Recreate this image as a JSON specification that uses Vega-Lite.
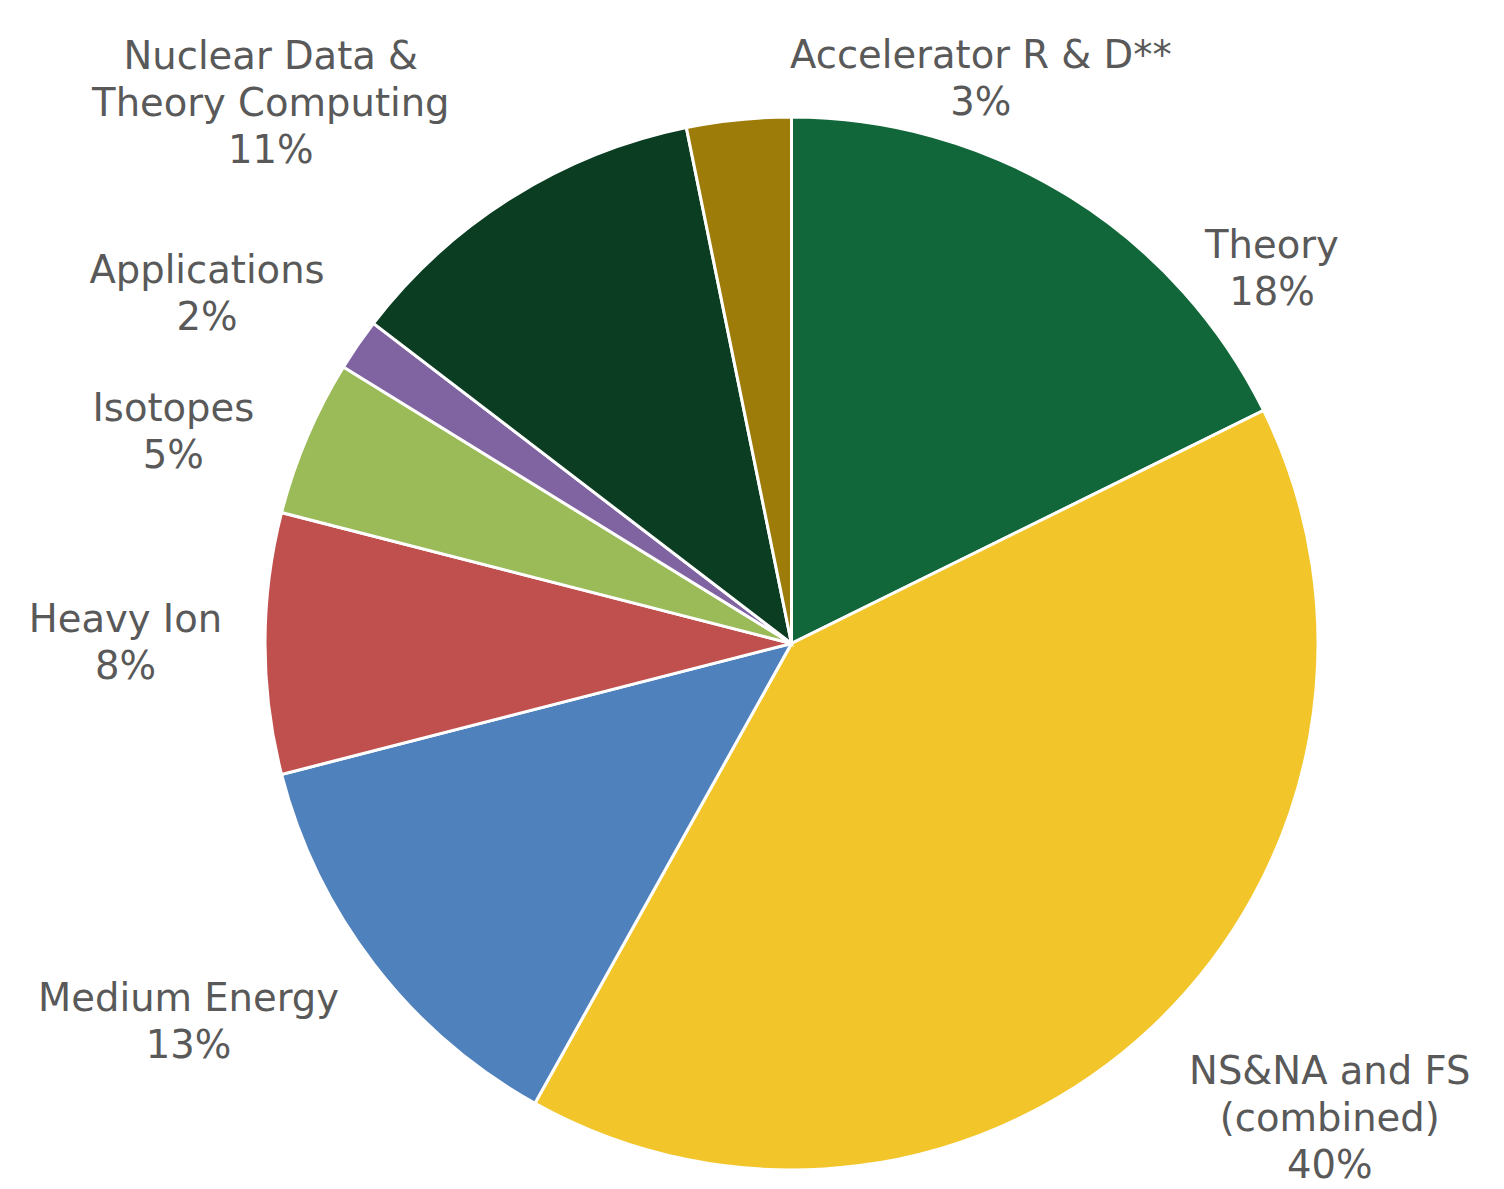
{
  "$schema": "https://vega.github.io/schema/vega-lite/v6.json",
  "width": 1425,
  "height": 1091,
  "autosize": "none",
  "padding": {"left": 79, "top": 98, "right": 0, "bottom": 0},
  "background": "white",
  "config": {"view": {"stroke": null}},
  "data": {
    "values": [
      {"category": "Theory", "value": 17.7, "label": "Theory\n18%"},
      {"category": "NS&NA and FS (combined)", "value": 40.4, "label": "NS&NA and FS\n(combined)\n40%"},
      {"category": "Medium Energy", "value": 12.9, "label": "Medium Energy\n13%"},
      {"category": "Heavy Ion", "value": 8.0, "label": "Heavy Ion\n8%"},
      {"category": "Isotopes", "value": 4.8, "label": "Isotopes\n5%"},
      {"category": "Applications", "value": 1.6, "label": "Applications\n2%"},
      {"category": "Nuclear Data & Theory Computing", "value": 11.4, "label": "Nuclear Data &\nTheory Computing\n11%"},
      {"category": "Accelerator R & D**", "value": 3.2, "label": "Accelerator R & D**\n3%"}
    ]
  },
  "transform": [{"stack": "value", "groupby": [], "as": ["s0", "s1"]}],
  "encoding": {
    "theta": {"field": "s0", "type": "quantitative", "stack": null, "scale": {"domain": [0, 100], "nice": false}}
  },
  "layer": [
    {
      "mark": {"type": "arc", "outerRadius": 526.5, "stroke": "white", "strokeWidth": 3},
      "encoding": {
        "theta2": {"field": "s1"},
        "color": {
          "field": "category", "type": "nominal", "legend": null,
          "scale": {
            "domain": ["Theory", "NS&NA and FS (combined)", "Medium Energy", "Heavy Ion", "Isotopes", "Applications", "Nuclear Data & Theory Computing", "Accelerator R & D**"],
            "range": ["#11673A", "#F2C62A", "#4F81BD", "#C0504D", "#9BBB59", "#8064A2", "#0A3D21", "#9E7C0A"]
          }
        }
      }
    },
    {
      "transform": [{"filter": "datum.category === 'Theory'"}],
      "mark": {"type": "text", "radius": 609, "thetaOffset": 0.909, "dy": -23.5, "font": "DejaVu Sans", "fontSize": 38.5, "lineHeight": 47, "lineBreak": "\n", "color": "#595959", "align": "center", "baseline": "middle"},
      "encoding": {"text": {"field": "label"}}
    },
    {
      "transform": [{"filter": "datum.category === 'NS&NA and FS (combined)'"}],
      "mark": {"type": "text", "radius": 718, "thetaOffset": 1.182, "dy": -47, "font": "DejaVu Sans", "fontSize": 38.5, "lineHeight": 47, "lineBreak": "\n", "color": "#595959", "align": "center", "baseline": "middle"},
      "encoding": {"text": {"field": "label"}}
    },
    {
      "transform": [{"filter": "datum.category === 'Medium Energy'"}],
      "mark": {"type": "text", "radius": 712, "thetaOffset": 0.501, "dy": -23.5, "font": "DejaVu Sans", "fontSize": 38.5, "lineHeight": 47, "lineBreak": "\n", "color": "#595959", "align": "center", "baseline": "middle"},
      "encoding": {"text": {"field": "label"}}
    },
    {
      "transform": [{"filter": "datum.category === 'Heavy Ion'"}],
      "mark": {"type": "text", "radius": 666, "thetaOffset": 0.251, "dy": -23.5, "font": "DejaVu Sans", "fontSize": 38.5, "lineHeight": 47, "lineBreak": "\n", "color": "#595959", "align": "center", "baseline": "middle"},
      "encoding": {"text": {"field": "label"}}
    },
    {
      "transform": [{"filter": "datum.category === 'Isotopes'"}],
      "mark": {"type": "text", "radius": 653, "thetaOffset": 0.077, "dy": -23.5, "font": "DejaVu Sans", "fontSize": 38.5, "lineHeight": 47, "lineBreak": "\n", "color": "#595959", "align": "center", "baseline": "middle"},
      "encoding": {"text": {"field": "label"}}
    },
    {
      "transform": [{"filter": "datum.category === 'Applications'"}],
      "mark": {"type": "text", "radius": 681, "thetaOffset": -0.014, "dy": -23.5, "font": "DejaVu Sans", "fontSize": 38.5, "lineHeight": 47, "lineBreak": "\n", "color": "#595959", "align": "center", "baseline": "middle"},
      "encoding": {"text": {"field": "label"}}
    },
    {
      "transform": [{"filter": "datum.category === 'Nuclear Data & Theory Computing'"}],
      "mark": {"type": "text", "radius": 750, "thetaOffset": 0.150, "dy": -47, "font": "DejaVu Sans", "fontSize": 38.5, "lineHeight": 47, "lineBreak": "\n", "color": "#595959", "align": "center", "baseline": "middle"},
      "encoding": {"text": {"field": "label"}}
    },
    {
      "transform": [{"filter": "datum.category === 'Accelerator R & D**'"}],
      "mark": {"type": "text", "radius": 595, "thetaOffset": 0.525, "dy": -23.5, "font": "DejaVu Sans", "fontSize": 38.5, "lineHeight": 47, "lineBreak": "\n", "color": "#595959", "align": "center", "baseline": "middle"},
      "encoding": {"text": {"field": "label"}}
    }
  ]
}
